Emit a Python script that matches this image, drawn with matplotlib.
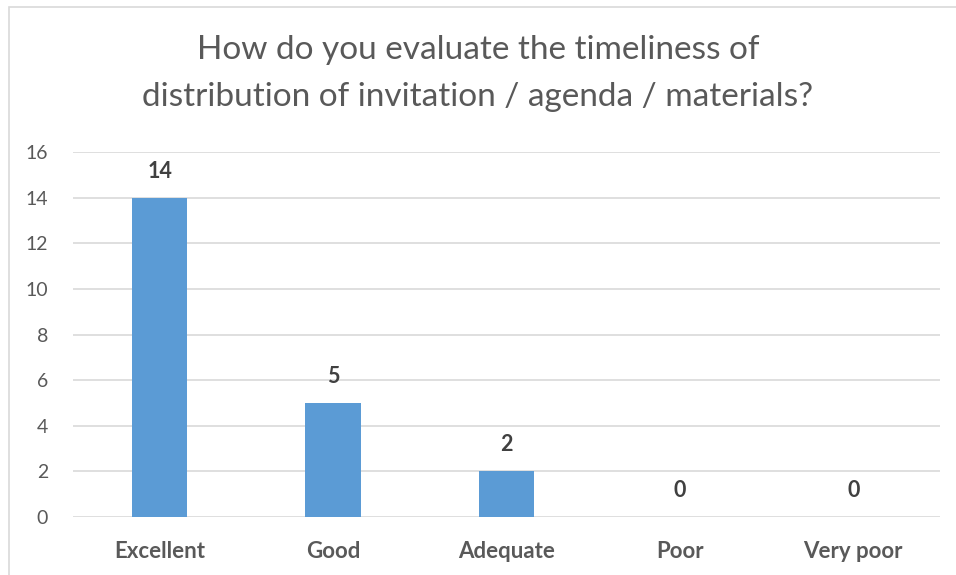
import matplotlib.pyplot as plt
from matplotlib.patches import Rectangle

# Dados do gráfico
categorias = ['Excellent', 'Good', 'Adequate', 'Poor', 'Very poor']
valores = [14, 5, 2, 0, 0]
ticks_y = [0, 2, 4, 6, 8, 10, 12, 14, 16]

plt.rcParams['font.family'] = ['Lato', 'DejaVu Sans']

fig = plt.figure(figsize=(9.56, 5.75), dpi=100)
ax = fig.add_axes([73 / 956, 1 - 517 / 575, (940 - 73) / 956, (517 - 152) / 575])

# Moldura do gráfico (cortada à direita e embaixo)
fig.patches.append(Rectangle((9 / 956, -0.05), 1.1, 1 - 7 / 575 + 0.05, transform=fig.transFigure,
                             fill=False, edgecolor='#D9D9D9', linewidth=1.2))

x = range(len(categorias))
barras = ax.bar(x, valores, width=0.32, color='#5B9BD5', zorder=3)

for xi, v in zip(x, valores):
    ax.text(xi, v + 0.7, str(v), ha='center', va='bottom', fontsize=15.5,
            fontweight='bold', color='#404040')

ax.set_xlim(-0.5, len(categorias) - 0.5)
ax.set_ylim(0, 16)
ax.set_yticks(ticks_y)
ax.set_xticks(list(x))
ax.set_xticklabels(categorias, fontsize=16, fontweight='bold', color='#595959')
ax.tick_params(axis='x', length=0, pad=17)
ax.tick_params(axis='y', length=0, labelsize=14, labelcolor='#595959', pad=18)
ax.grid(axis='y', color='#D9D9D9', linewidth=1.2, zorder=0)
for s in ax.spines.values():
    s.set_visible(False)

fig.text(0.5, 1 - 50 / 575, 'How do you evaluate the timeliness of', ha='center', va='center',
         fontsize=24, color='#595959')
fig.text(0.5, 1 - 97 / 575, 'distribution of invitation / agenda / materials?', ha='center', va='center',
         fontsize=24, color='#595959')

fig.savefig('out.png', dpi=100)
